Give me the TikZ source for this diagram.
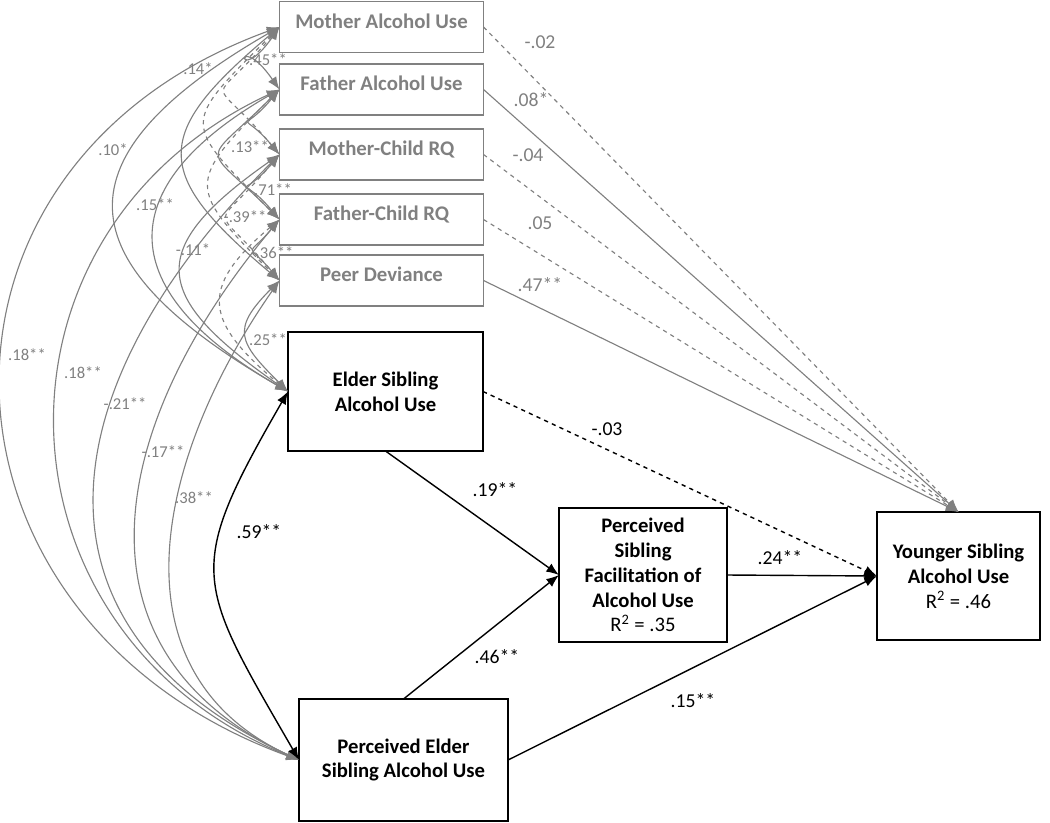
\documentclass[tikz,border=0pt]{standalone}
\usepackage{fontspec}
\setmainfont{Carlito}
\usetikzlibrary{arrows.meta}

\definecolor{covgray}{RGB}{128,128,128}
\newcommand{\boxfont}{\fontsize{14.7}{17.7}\selectfont\bfseries}
\newcommand{\exofont}{\fontsize{14.8}{17}\selectfont\bfseries}

\begin{document}
\begin{tikzpicture}[x=0.025cm, y=0.025cm,
  exo/.style={draw=covgray, text=covgray, line width=0.9pt, font=\exofont,
    minimum width=5.1cm, minimum height=1.275cm, inner sep=0pt, outer sep=0pt,
    text height=11pt, text depth=9pt},
  var/.style={draw, line width=1pt, font=\boxfont, align=center,
    inner sep=0pt, outer sep=0pt},
  cov/.style={covgray, line width=0.8pt,
    {Latex[length=9pt,width=7pt]}-{Latex[length=9pt,width=7pt]}},
  gpath/.style={covgray, line width=0.8pt, -{Latex[length=9pt,width=7pt]}},
  bpath/.style={line width=1pt, -{Latex[length=9pt,width=7pt]}},
  clab/.style={covgray, font=\fontsize{11.8}{13}\selectfont},
  glab/.style={covgray, font=\fontsize{14}{16}\selectfont},
  blab/.style={font=\fontsize{14}{16}\selectfont}]
\useasboundingbox (0,0) rectangle (1050,-822);

% exogenous predictors
\node[exo] (mom) at (381.5,-27) {Mother Alcohol Use};
\node[exo] (dad) at (381.5,-89.5) {Father Alcohol Use};
\node[exo] (mcrq) at (381.5,-154.5) {Mother-Child RQ};
\node[exo] (fcrq) at (381.5,-219.5) {Father-Child RQ};
\node[exo] (peer) at (381.5,-280.5) {Peer Deviance};

% sibling variables
\node[var, minimum width=4.875cm, minimum height=2.975cm] (elder) at (385.5,-391.5) {Elder Sibling\\Alcohol Use};
\node[var, minimum width=5.225cm, minimum height=3.05cm] (perc) at (403.5,-760) {Perceived Elder\\Sibling Alcohol Use};
\node[var, minimum width=4.2cm, minimum height=3.35cm] (facil) at (643,-575) {Perceived\\Sibling\\Facilitation of\\Alcohol Use\\{\mdseries R\textsuperscript{2} = .35}};
\node[var, minimum width=4.075cm, minimum height=3.2cm] (young) at (958.5,-576) {Younger Sibling\\Alcohol Use\\{\mdseries R\textsuperscript{2} = .46}};

% paths from predictors
\draw[gpath, dashed] (mom.east) -- (young.north);
\draw[gpath] (dad.east) -- (young.north);
\draw[gpath, dashed] (mcrq.east) -- (young.north);
\draw[gpath, dashed] (fcrq.east) -- (young.north);
\draw[gpath] (peer.east) -- (young.north);
\node[glab] (lmom) at (540,-42) {-.02};
\node[glab] (ldad) at (531,-100) {.08*};
\node[glab] (lmcrq) at (528,-155) {-.04};
\node[glab] (lfcrq) at (540,-223) {.05};
\node[glab] (lpeer) at (540,-285) {.47**};

% mediation paths
\draw[bpath, dashed] (elder.east) -- (young.west);
\draw[bpath] (elder.south) -- (facil.west);
\draw[bpath] (perc.north) -- (facil.west);
\draw[bpath] (facil.east) -- (young.west);
\draw[bpath] (perc.east) -- (young.west);
\node[blab] (ley) at (607,-429) {-.03};
\node[blab] (lef) at (495,-490) {.19**};
\node[blab] (lpf) at (497,-657) {.46**};
\node[blab] (lfy) at (780,-558) {.24**};
\node[blab] (lpy) at (693,-701) {.15**};

% covariances
\draw[cov] (mom.west) to[out=235,in=125,looseness=3.2] (dad.west);
\draw[cov] (dad.west) to[out=230,in=130,looseness=2.45] (mcrq.west);
\draw[cov] (mcrq.west) to[out=230,in=130,looseness=2.6] (fcrq.west);
\draw[cov] (fcrq.west) to[out=230,in=130,looseness=2.2] (peer.west);
\draw[cov, dashed] (mom.west) to[out=230,in=130,looseness=2.26] (mcrq.west);
\draw[cov] (dad.west) to[out=225,in=135,looseness=2.2] (fcrq.west);
\draw[cov, dashed] (mcrq.west) to[out=230,in=130,looseness=2.2] (peer.west);
\draw[cov, dashed] (mom.west) to[out=225,in=135,looseness=1.86] (fcrq.west);
\draw[cov, dashed] (dad.west) to[out=225,in=135,looseness=1.77] (peer.west);
\draw[cov] (mom.west) to[out=220,in=140,looseness=1.69] (peer.west);
\draw[cov] (peer.west) to[out=225,in=135,looseness=1.6] (elder.west);
\draw[cov, dashed] (fcrq.west) to[out=220,in=140,looseness=1.6] (elder.west);
\draw[cov] (mcrq.west) to[out=215,in=145,looseness=1.79] (elder.west);
\draw[cov] (dad.west) to[out=210,in=150,looseness=1.68] (elder.west);
\draw[cov] (mom.west) to[out=210,in=150,looseness=1.82] (elder.west);
\draw[cov] (peer.west) to[out=235,in=155,looseness=1.13] (perc.west);
\draw[cov] (fcrq.west) to[out=230,in=155,looseness=1.24] (perc.west);
\draw[cov] (mcrq.west) to[out=225,in=155,looseness=1.35] (perc.west);
\draw[cov] (dad.west) to[out=205,in=158,looseness=1.29] (perc.west);
\draw[cov] (mom.west) to[out=200,in=160,looseness=1.42] (perc.west);
\draw[bpath, {Latex[length=9pt,width=7pt]}-{Latex[length=9pt,width=7pt]}] (elder.west) to[out=240,in=120,looseness=1.44] (perc.west);
\node[clab] (c1) at (268,-60) {.45**};
\node[clab] (c2) at (198,-69) {.14*};
\node[clab] (c3) at (113,-150) {.10*};
\node[clab] (c4) at (250,-147) {.13**};
\node[clab] (c5) at (273,-190) {.71**};
\node[clab] (c6) at (245,-217) {-.39**};
\node[clab] (c7) at (272,-253) {-.36**};
\node[clab] (c8) at (155,-205) {.15**};
\node[clab] (c9) at (193,-250) {-.11*};
\node[clab] (c10) at (268,-340) {.25**};
\node[clab] (c11) at (27,-355) {.18**};
\node[clab] (c12) at (83,-373) {.18**};
\node[clab] (c13) at (125,-404) {-.21**};
\node[clab] (c14) at (163,-452) {-.17**};
\node[clab] (c15) at (194,-498) {.38**};
\node[blab] (c16) at (259,-532) {.59**};
\end{tikzpicture}
\end{document}
